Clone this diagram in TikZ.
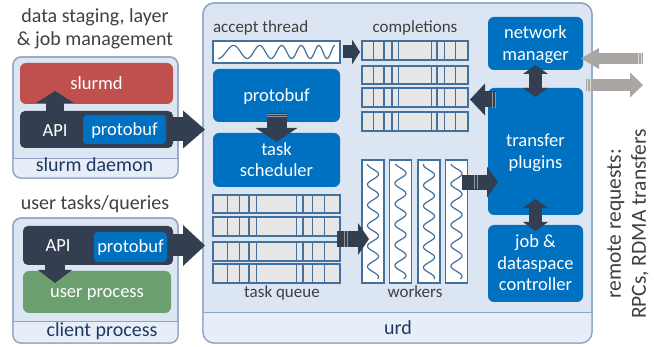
\documentclass[tikz,border=0pt]{standalone}
\usepackage{fontspec}
\setmainfont{Carlito}
\usetikzlibrary{arrows.meta,calc}
\definecolor{panel}{HTML}{DCE6F2}
\definecolor{band}{HTML}{E8EEF7}
\definecolor{panelline}{HTML}{8EA5C6}
\definecolor{navy}{HTML}{1F3864}
\definecolor{darkarrow}{HTML}{333F50}
\definecolor{blueb}{HTML}{0070C0}
\definecolor{redb}{HTML}{C0504D}
\definecolor{greenb}{HTML}{6B9F6F}
\definecolor{cellfill}{HTML}{E6E6E6}
\definecolor{cellline}{HTML}{41719C}
\definecolor{grayarrow}{HTML}{AAA6A3}
\definecolor{captext}{HTML}{404040}
\newcommand\figcapfont{\fontsize{20}{23}\selectfont}
\newcommand\figboxfont{\fontsize{18.5}{21.5}\selectfont}
\newcommand\figsmallfont{\fontsize{17}{20}\selectfont}
\newcommand\figremfont{\fontsize{21.5}{25}\selectfont}
\newcommand\figstrut{\rule[-3pt]{0pt}{18pt}}
\newcommand\capstrut{\rule[-4pt]{0pt}{20pt}}
\begin{document}
\begin{tikzpicture}[x=1pt,y=-1pt,
  every node/.style={inner sep=0pt,outer sep=0pt},
  panelbox/.style={draw=panelline,line width=1.3pt,fill=panel,rounded corners=#1},
  bandline/.style={draw=panelline,line width=1pt},
  bluebox/.style={fill=blueb,rounded corners=6pt,text=white,align=center,font=\figboxfont},
  cellrow/.style={draw=cellline,line width=1.2pt,fill=cellfill},
  cellsep/.style={draw=cellline,line width=1.2pt},
  wave/.style={draw=cellline,line width=1.2pt},
  captxt/.style={font=\figsmallfont,text=captext},
  bandtxt/.style={font=\figcapfont,text=navy},
  stripe/.style={draw=white,opacity=.45,line width=.9pt},
  blk/.style n args={3}{draw=darkarrow,line width=#1,-{Triangle[length=#2,width=#3,line width=0pt]}},
  dblk/.style n args={3}{draw=darkarrow,line width=#1,{Triangle[length=#2,width=#3,line width=0pt]}-{Triangle[length=#2,width=#3,line width=0pt]}},
  gblk/.style n args={3}{draw=grayarrow,line width=#1,-{Triangle[length=#2,width=#3,line width=0pt]}}
]
\useasboundingbox (0,0) rectangle (654,347);

% ---------- panels ----------
\node[panelbox=8pt,minimum width=165pt,minimum height=121pt] (slurm) at (95.5,117.5) {};
\node[panelbox=8pt,minimum width=165pt,minimum height=125pt] (client) at (95.5,280.5) {};
\node[panelbox=11pt,minimum width=389pt,minimum height=340pt] (urd) at (397.5,173) {};
\begin{scope}
  \clip[rounded corners=8pt] (slurm.north west) rectangle (slurm.south east);
  \fill[band] (13,159) rectangle (178,180);
\end{scope}
\begin{scope}
  \clip[rounded corners=8pt] (client.north west) rectangle (client.south east);
  \fill[band] (13,322) rectangle (178,345);
\end{scope}
\begin{scope}
  \clip[rounded corners=11pt] (urd.north west) rectangle (urd.south east);
  \fill[band] (203,313) rectangle (592,345);
\end{scope}
\draw[bandline] (13,159) -- (178,159);
\draw[bandline] (13,322) -- (178,322);
\draw[bandline] (203,313) -- (592,313);
\draw[panelline,line width=1.3pt,rounded corners=8pt] (slurm.north west) rectangle (slurm.south east);
\draw[panelline,line width=1.3pt,rounded corners=8pt] (client.north west) rectangle (client.south east);
\draw[panelline,line width=1.3pt,rounded corners=11pt] (urd.north west) rectangle (urd.south east);

% ---------- captions ----------
\node[font=\figcapfont,text=captext,align=center,anchor=north] (capslurm) at (95,7)
  {\capstrut data staging, layer\\\& job management\capstrut};
\node[font=\figcapfont,text=captext,anchor=base] (capclient) at (95,210) {user tasks/queries};
\node[bandtxt,anchor=base] (slurmlabel) at (94.5,172) {slurm daemon};
\node[bandtxt,anchor=base] (clientlabel) at (102,337) {client process};
\node[bandtxt,anchor=base] (urdlabel) at (398,335) {urd};

% ---------- slurm daemon ----------
\node[fill=redb,rounded corners=6pt,minimum width=153pt,minimum height=41pt,text=white,font=\figboxfont] (slurmd) at (96.5,83.5) {\figstrut slurmd};
\node[fill=darkarrow,rounded corners=5pt,minimum width=153pt,minimum height=37pt] (api1) at (96.5,129.5) {};
\node[font=\figboxfont,text=white,anchor=base] (apit1) at (55,137) {API};
\draw[blk={18pt}{12pt}{38pt},shorten <=-1pt,shorten >=-13pt] (apit1 |- api1.north) -- (apit1 |- slurmd.south);
\node[bluebox,rounded corners=4pt,minimum width=83pt,minimum height=29pt] (pb1) at (124.5,129.5) {\figstrut protobuf};
\draw[blk={24pt}{22pt}{38pt},shorten <=-1pt,shorten >=-2pt] (api1.east) -- (api1.east -| urd.west);

% ---------- client process ----------
\node[fill=greenb,rounded corners=6pt,minimum width=148pt,minimum height=42pt,text=white,font=\figboxfont] (user) at (97,292) {\figstrut user process};
\node[fill=darkarrow,rounded corners=5pt,minimum width=150pt,minimum height=39pt] (api2) at (98,245.5) {};
\path (api2.south west) ++(32,0) coordinate (dtail);
\draw[blk={20pt}{13pt}{34pt},shorten <=-1pt,shorten >=-12pt] (dtail) -- (dtail |- user.north);
\node[bluebox,rounded corners=4pt,minimum width=73pt,minimum height=30pt] (pb2) at (130.5,247) {\figstrut protobuf};
\node[font=\figboxfont,text=white,anchor=base] (apit2) at (58,252) {API};
\draw[blk={22pt}{22pt}{41pt},shorten <=-1pt,shorten >=-2pt] (api2.east) -- (api2.east -| urd.west);

% ---------- urd: accept thread ----------
\node[captxt,anchor=base west] (acclabel) at (213,33) {accept thread};
\node[draw=cellline,line width=1.2pt,fill=white,minimum width=127pt,minimum height=22pt] (accept) at (276.5,52) {};
\draw[wave] plot[variable=\t,domain=0:1,samples=200,smooth] ({218+117*\t},{52+6.5*cos(360*(3.5*\t+2*\t*\t))});

% ---------- completions ----------
\node[captxt,anchor=base] (complabel) at (415,33) {completions};
\foreach \n/\y/\h in {c1/50.5/19,c2/75/18,c3/97.5/19,c4/121.5/19}{
  \node[cellrow,minimum width=106pt,minimum height=\h pt] (\n) at (415,\y) {};
  \foreach \f in {0.112,0.207,0.283,0.345,0.657,0.708,0.781,0.88}
    \draw[cellsep] ($(\n.north west)!\f!(\n.north east)$) -- ($(\n.south west)!\f!(\n.south east)$);
}
\draw[blk={13pt}{8pt}{25pt},shorten <=3pt,shorten >=2pt] (accept.east) -- (accept.east -| c1.west);

% ---------- protobuf / scheduler ----------
\node[bluebox,minimum width=127pt,minimum height=53pt] (pbu) at (276.5,95.5) {\figstrut protobuf};
\node[bluebox,minimum width=127pt,minimum height=54pt] (sched) at (276.5,160) {\figstrut task\\scheduler\figstrut};
\draw[blk={20pt}{14pt}{42pt},shorten <=-9pt,shorten >=-9pt] (pbu.south) -- (sched.north);
\draw[stripe] (267,114.3) -- (287,114.3);
\draw[stripe] (267,116.6) -- (287,116.6);

% ---------- task queue ----------
\foreach \n/\y/\h in {q1/204/18,q2/226.5/19,q3/251.5/19,q4/273.5/19}{
  \node[cellrow,minimum width=127pt,minimum height=\h pt] (\n) at (276.5,\y) {};
  \foreach \f in {0.112,0.207,0.283,0.345,0.657,0.708,0.781,0.88}
    \draw[cellsep] ($(\n.north west)!\f!(\n.north east)$) -- ($(\n.south west)!\f!(\n.south east)$);
}
\node[captxt,anchor=base] (qlabel) at (282,298) {task queue};

% ---------- workers ----------
\foreach \n/\x/\p in {w1/373/0,w2/400.5/20,w3/429/-15,w4/456.5/10}{
  \node[draw=cellline,line width=1.2pt,fill=white,minimum width=22pt,minimum height=123pt] (\n) at (\x,221.5) {};
  \draw[wave] plot[variable=\t,domain=0:1,samples=160,smooth] ({\x-5.5*cos(360*5.6*\t+\p)},{164+115*\t});
}
\node[captxt,anchor=base] (wlabel) at (415,298) {workers};
\coordinate (qmid) at ($(q2.south east)!0.5!(q3.north east)$);
\draw[blk={16pt}{11pt}{32pt},shorten <=-3pt,shorten >=-7pt] (qmid) -- (qmid -| w1.west);
\draw[stripe] (344.5,231) -- (344.5,247);
\draw[stripe] (347.5,231) -- (347.5,247);

% ---------- right column ----------
\node[bluebox,minimum width=95pt,minimum height=53pt] (netmgr) at (535.5,43.5) {\figstrut network\\manager\figstrut};
\node[bluebox,minimum width=95pt,minimum height=127pt] (transfer) at (535.5,151.5) {\figstrut transfer\\plugins\figstrut};
\node[bluebox,minimum width=95pt,minimum height=77pt] (jobctl) at (535.5,263.5) {\figstrut job \&\\dataspace\\controller\figstrut};
\draw[dblk={13pt}{9pt}{25pt},shorten <=-5pt,shorten >=-9pt] (netmgr.south) -- (transfer.north);
\draw[dblk={13pt}{9pt}{25pt},shorten <=-16pt,shorten >=-6pt] (transfer.south) -- (jobctl.north);

\coordinate (wmid) at ($(w4.north east)!0.18!(w4.south east)$);
\draw[blk={15pt}{11pt}{31pt},shorten <=-6pt,shorten >=-10pt] (wmid) -- (wmid -| transfer.west);
\draw[stripe] (474.5,174.5) -- (474.5,189.5);
\draw[stripe] (477.5,174.5) -- (477.5,189.5);

\coordinate (cmid) at ($(c3.east)+(0,2)$);
\draw[blk={16pt}{15pt}{32pt},shorten <=-8pt,shorten >=2pt] (cmid -| transfer.west) -- (cmid);
\draw[stripe] (492.5,92) -- (492.5,108);
\draw[stripe] (495,92) -- (495,108);

% ---------- remote requests ----------
\coordinate (rin) at (643,58.5);
\coordinate (rout) at (643,85);
\draw[gblk={11pt}{18pt}{21pt},shorten >=-2pt] (rin) -- (rin -| netmgr.east);
\draw[gblk={12pt}{13pt}{25pt},shorten <=3pt] (rout -| netmgr.east) -- (rout);
\draw[stripe,opacity=.6] (638.5,53) -- (638.5,64);
\draw[stripe,opacity=.6] (641,53) -- (641,64);
\draw[stripe,opacity=.6] (587.5,79) -- (587.5,91);
\draw[stripe,opacity=.6] (590,79) -- (590,91);
\node[font=\figremfont,text=captext,align=center,rotate=90] (remote) at (628,224)
  {remote requests:\\RPCs, RDMA transfers};
\end{tikzpicture}
\end{document}
